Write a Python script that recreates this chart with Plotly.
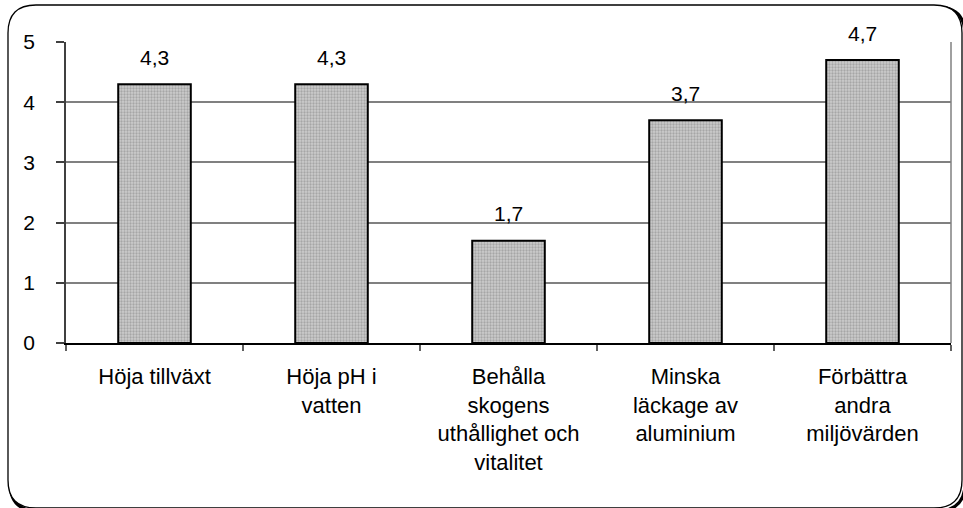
import plotly.graph_objects as go

# Data
kategorier = [
    'Höja tillväxt',
    'Höja pH i<br>vatten',
    'Behålla<br>skogens<br>uthållighet och<br>vitalitet',
    'Minska<br>läckage av<br>aluminium',
    'Förbättra<br>andra<br>miljövärden',
]
varden = [4.3, 4.3, 1.7, 3.7, 4.7]
y_ticks = [0, 1, 2, 3, 4, 5]

W, H = 963, 508
# plot area in pixels
L, R, T, B = 66, 951, 42, 343


def px(x, y):
    # pixel -> paper coordinates
    return (x - L) / (R - L), (B - y) / (B - T)


def rounded_path(x0, y0, x1, y1, r):
    pts = [
        ('M', [(x0 + r, y0)]),
        ('L', [(x1 - r, y0)]),
        ('Q', [(x1, y0), (x1, y0 + r)]),
        ('L', [(x1, y1 - r)]),
        ('Q', [(x1, y1), (x1 - r, y1)]),
        ('L', [(x0 + r, y1)]),
        ('Q', [(x0, y1), (x0, y1 - r)]),
        ('L', [(x0, y0 + r)]),
        ('Q', [(x0, y0), (x0 + r, y0)]),
    ]
    s = ''
    for cmd, p in pts:
        s += cmd + ' ' + ' '.join('%.5f,%.5f' % px(a, b) for a, b in p) + ' '
    return s + 'Z'


fig = go.Figure()

fig.add_trace(go.Bar(
    x=kategorier,
    y=varden,
    marker=dict(
        color='#bcbcbc',
        line=dict(color='black', width=2),
        pattern=dict(shape='.', fgcolor='#808080', bgcolor='#cccccc', size=3, solidity=0.45),
    ),
    width=0.41,
    hoverinfo='skip',
))

# värdeetiketter ovanför staplarna
for k, v in zip(kategorier, varden):
    fig.add_annotation(
        x=k, y=v, text=('%.1f' % v).replace('.', ','),
        showarrow=False, yanchor='middle', yshift=27,
        font=dict(family='Liberation Sans, Arial', size=21, color='black'),
    )

# ram runt diagrammet (med skugga)
fig.add_shape(type='path', xref='paper', yref='paper',
              path=rounded_path(10, 7, 965, 511, 28),
              line=dict(color='black', width=3), layer='below')
fig.add_shape(type='path', xref='paper', yref='paper',
              path=rounded_path(8, 5, 962, 508, 28),
              line=dict(color='black', width=1.3), fillcolor='white', layer='below')

# höger kant på ritytan
fig.add_shape(type='line', xref='paper', yref='paper', x0=1, x1=1, y0=0, y1=1,
              line=dict(color='#808080', width=1.5))

fig.update_layout(
    width=W, height=H,
    margin=dict(l=L, r=W - R, t=T, b=H - B),
    paper_bgcolor='white',
    plot_bgcolor='white',
    showlegend=False,
    font=dict(family='Liberation Sans, Arial', color='black'),
    xaxis=dict(
        showline=True, linecolor='black', linewidth=1.5,
        ticks='outside', tickson='boundaries', ticklen=6, tickcolor='#606060', tickwidth=1.5,
        tickfont=dict(size=22), ticklabelstandoff=13,
        showgrid=False,
    ),
    yaxis=dict(
        range=[0, 5], tickvals=y_ticks,
        showline=True, linecolor='#404040', linewidth=1.5,
        ticks='outside', ticklen=8, tickcolor='#404040', tickwidth=1.5,
        tickfont=dict(size=21), ticklabelstandoff=17,
        showgrid=True, gridcolor='#808080', gridwidth=1.5,
        zeroline=False,
    ),
)

fig.write_html('out.html', config={'displayModeBar': False},
               post_script="document.body.style.margin='0';")
